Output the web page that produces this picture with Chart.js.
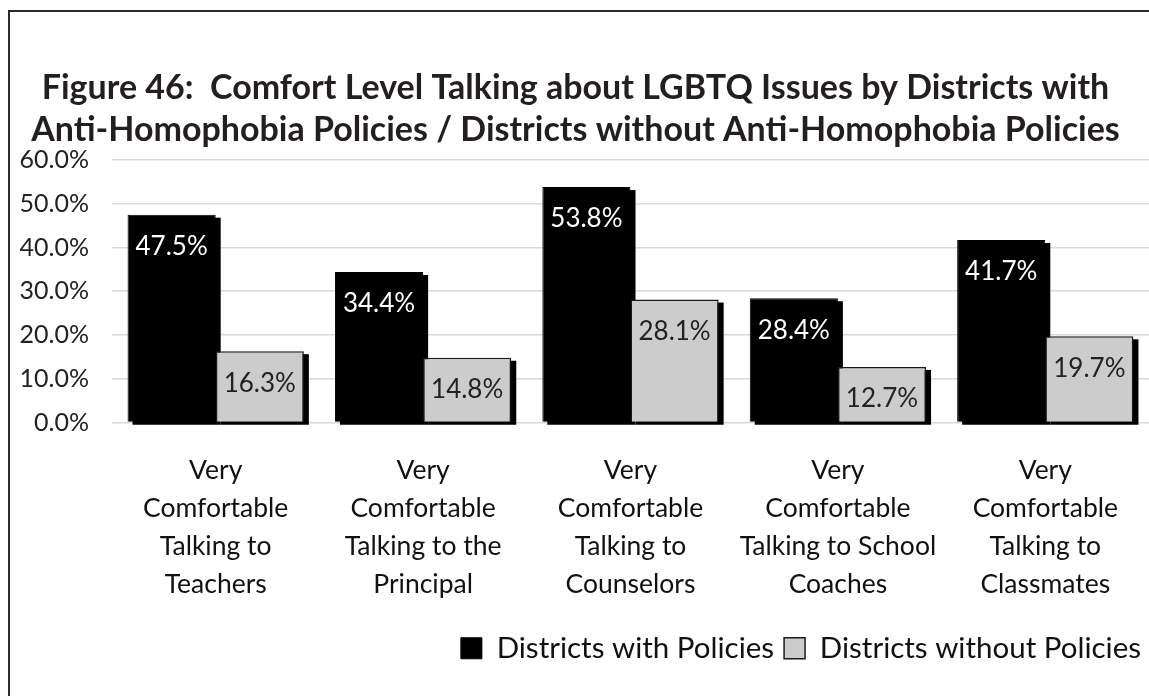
<!DOCTYPE html>
<html>
<head>
<meta charset="utf-8">
<script src="https://cdn.jsdelivr.net/npm/chart.js@4"></script>
<style>
  html, body { margin: 0; padding: 0; background: #fff; }
  #wrap { position: relative; width: 1149px; height: 696px; overflow: hidden; }
  #frame { position: absolute; left: 8px; top: 10px; width: 1200px; height: 800px;
           border-left: 2px solid #2a2a2a; border-top: 2px solid #2a2a2a; pointer-events: none; }
</style>
</head>
<body>
<div id="wrap">
  <canvas id="chart" width="1149" height="696"></canvas>
  <div id="frame"></div>
</div>
<script>
const categories = [
    ["Very", "Comfortable", "Talking to", "Teachers"],
    ["Very", "Comfortable", "Talking to the", "Principal"],
    ["Very", "Comfortable", "Talking to", "Counselors"],
    ["Very", "Comfortable", "Talking to School", "Coaches"],
    ["Very", "Comfortable", "Talking to", "Classmates"]
];
const withPolicies = [47.5, 34.4, 53.8, 28.4, 41.7];
const withoutPolicies = [16.3, 14.8, 28.1, 12.7, 19.7];
const yTicks = [0, 10, 20, 30, 40, 50, 60];

// black offset shadow behind each bar (drawn before the bars)
const barShadow = {
    id: 'barShadow',
    beforeDatasetsDraw(chart) {
        const c = chart.ctx;
        c.save();
        c.fillStyle = '#000';
        chart.data.datasets.forEach((ds, i) => {
            chart.getDatasetMeta(i).data.forEach(bar => {
                const w = bar.width;
                c.fillRect(bar.x - w / 2 + 5, bar.y + 3, w, bar.base - bar.y);
            });
        });
        c.restore();
    }
};

// value labels near the top inside each bar
const barLabels = {
    id: 'barLabels',
    afterDraw(chart) {
        const c = chart.ctx;
        c.save();
        c.font = '26px Lato';
        c.textAlign = 'center';
        c.textBaseline = 'middle';
        chart.data.datasets.forEach((ds, i) => {
            chart.getDatasetMeta(i).data.forEach((bar, j) => {
                c.fillStyle = i === 0 ? '#fff' : '#222';
                c.fillText(ds.data[j].toFixed(1) + '%', bar.x, bar.y + 32);
            });
        });
        c.restore();
    }
};

const ctx = document.getElementById("chart").getContext("2d");

new Chart(ctx, {
    type: 'bar',
    data: {
        labels: categories,
        datasets: [
            {
                label: 'Districts with Policies',
                data: withPolicies,
                backgroundColor: '#000',
                borderColor: '#000',
                borderWidth: 1
            },
            {
                label: 'Districts without Policies',
                data: withoutPolicies,
                backgroundColor: '#cccccc',
                borderColor: '#1a1a1a',
                borderWidth: 1.5
            }
        ]
    },
    options: {
        responsive: false,
        animation: false,
        devicePixelRatio: 1,
        layout: {
            padding: { top: 67, left: 0, right: -2, bottom: 23 }
        },
        datasets: {
            bar: {
                categoryPercentage: 0.85,
                barPercentage: 1.0
            }
        },
        plugins: {
            title: {
                display: true,
                text: [
                    'Figure 46:  Comfort Level Talking about LGBTQ Issues by Districts with',
                    'Anti-Homophobia Policies / Districts without Anti-Homophobia Policies'
                ],
                color: '#231f20',
                font: { family: 'Lato', size: 34, weight: 'bold', lineHeight: 1.235 },
                padding: { top: 0, bottom: 9 }
            },
            legend: {
                position: 'bottom',
                align: 'end',
                labels: {
                    boxWidth: 21,
                    boxHeight: 21,
                    padding: 10,
                    color: '#111',
                    font: { family: 'Lato', size: 29.5 }
                }
            },
            tooltip: { enabled: false }
        },
        scales: {
            x: {
                grid: { display: false, drawTicks: false },
                border: { display: false },
                ticks: {
                    color: '#111',
                    padding: 29,
                    maxRotation: 0,
                    autoSkip: false,
                    font: { family: 'Lato', size: 26.5, lineHeight: 1.434 }
                },
                afterFit(axis) {
                    axis.height -= 9;
                }
            },
            y: {
                min: 0,
                max: 60,
                afterBuildTicks(axis) {
                    axis.ticks = yTicks.map(v => ({ value: v }));
                },
                afterFit(axis) {
                    axis.width = 112;
                },
                grid: { color: '#d9d9d9', lineWidth: 1.5, drawTicks: false },
                border: { display: false },
                ticks: {
                    color: '#222',
                    padding: 23,
                    font: { family: 'Lato', size: 25 },
                    callback: v => v.toFixed(1) + '%'
                }
            }
        }
    },
    plugins: [barShadow, barLabels]
});
</script>
</body>
</html>
